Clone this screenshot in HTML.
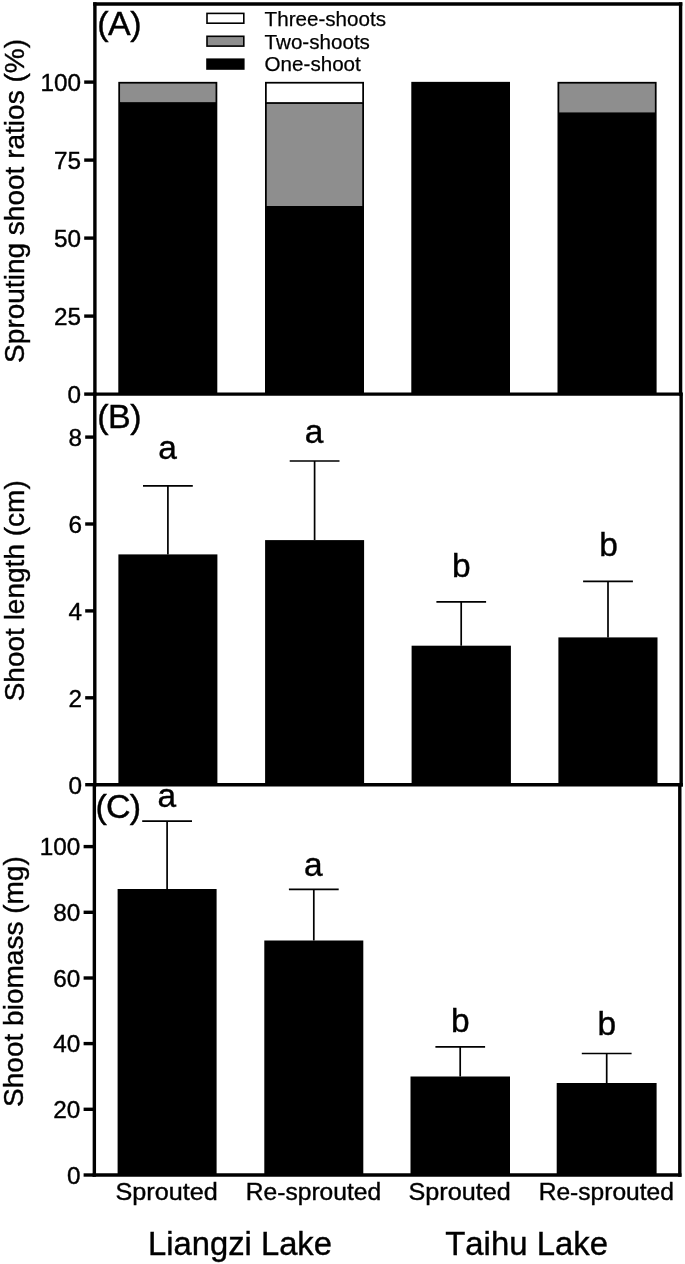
<!DOCTYPE html>
<html lang="en"><head><meta charset="utf-8"><title>Sprouting shoot ratios, shoot length and shoot biomass</title>
<style>
html,body{margin:0;padding:0;background:#fff;}
body{width:685px;height:1264px;overflow:hidden;}
svg{display:block;will-change:transform;}
text{font-family:"Liberation Sans", Arial, Helvetica, sans-serif;fill:#000;stroke:#000;stroke-width:0.4px;font-kerning:none;}
.tk{font-size:24.3px;text-anchor:end;}
.yl{font-size:28.03px;text-anchor:middle;}
.pl{font-size:34px;letter-spacing:-0.45px;}
.lt{font-size:33.5px;text-anchor:middle;}
.lg{font-size:20.6px;stroke-width:0.25px;font-kerning:normal;}
.xl{font-size:23.9px;text-anchor:middle;}
.gl{font-size:32.9px;text-anchor:middle;}
.ax{stroke:#000;stroke-width:3.4;fill:none;}
.eb{stroke:#000;stroke-width:1.7;fill:none;}
</style></head><body>
<svg width="685" height="1264" viewBox="0 0 685 1264">
<defs><filter id="soft" x="0" y="0" width="685" height="1264" filterUnits="userSpaceOnUse"><feGaussianBlur stdDeviation="0.4"/></filter></defs>
<rect width="685" height="1264" fill="#fff"/>
<g filter="url(#soft)">
<rect x="118.30" y="81.85" width="99.00" height="312.25" fill="#000"/>
<rect x="120.05" y="83.60" width="95.50" height="18.53" fill="#8e8e8e"/>
<rect x="265.00" y="81.85" width="99.00" height="312.25" fill="#000"/>
<rect x="266.75" y="103.88" width="95.50" height="102.15" fill="#8e8e8e"/>
<rect x="266.75" y="83.60" width="95.50" height="18.53" fill="#fff"/>
<rect x="411.30" y="81.85" width="98.70" height="312.25" fill="#000"/>
<rect x="557.50" y="81.85" width="99.10" height="312.25" fill="#000"/>
<rect x="559.25" y="83.60" width="95.60" height="28.83" fill="#8e8e8e"/>
<rect x="207" y="13.4" width="36.8" height="9.8" fill="#fff" stroke="#000" stroke-width="1.6"/>
<text class="lg" x="264.6" y="25.7">Three-shoots</text>
<rect x="207" y="36.3" width="36.8" height="9.8" fill="#8e8e8e" stroke="#000" stroke-width="1.6"/>
<text class="lg" x="264.6" y="48.5">Two-shoots</text>
<rect x="207" y="59.2" width="36.8" height="9.8" fill="#000" stroke="#000" stroke-width="1.6"/>
<text class="lg" x="264.6" y="71.3">One-shoot</text>
<rect x="118.4" y="554.4" width="99.0" height="230.3" fill="#000"/>
<path class="eb" d="M167.9 554.4V485.8M143.0 485.8H192.8"/>
<rect x="265.1" y="540.1" width="99.0" height="244.6" fill="#000"/>
<path class="eb" d="M314.6 540.1V461.0M289.7 461.0H339.5"/>
<rect x="411.6" y="645.7" width="99.3" height="139.0" fill="#000"/>
<path class="eb" d="M461.2 645.7V601.8M436.4 601.8H486.1"/>
<rect x="558.4" y="637.4" width="99.1" height="147.3" fill="#000"/>
<path class="eb" d="M608.0 637.4V581.4M583.1 581.4H632.9"/>
<rect x="117.6" y="889.0" width="99.0" height="286.0" fill="#000"/>
<path class="eb" d="M167.1 889.0V821.1M142.2 821.1H192.0"/>
<rect x="264.3" y="940.5" width="99.0" height="234.5" fill="#000"/>
<path class="eb" d="M313.8 940.5V889.3M288.9 889.3H338.7"/>
<rect x="410.5" y="1076.5" width="99.5" height="98.5" fill="#000"/>
<path class="eb" d="M460.2 1076.5V1046.9M435.4 1046.9H485.1"/>
<rect x="556.7" y="1083.0" width="99.9" height="92.0" fill="#000"/>
<path class="eb" d="M606.7 1083.0V1053.5M581.8 1053.5H631.6"/>
<path class="ax" d="M94.9 2.35V395.80M680.6 2.35V395.80"/>
<path class="ax" d="M93.20 394.1H682.30"/>
<path class="ax" d="M94.8 392.40V786.40M681.15 392.40V786.40"/>
<path class="ax" d="M93.10 784.7H682.85"/>
<path class="ax" d="M94.35 783.00V1176.70M679.8 783.00V1176.70"/>
<path class="ax" d="M92.65 1175.0H681.50"/>
<path class="ax" d="M93.20 4.05H682.30"/>
<path class="ax" d="M84.2 394.1H94.9"/>
<text class="tk" x="81.0" y="403.1">0</text>
<path class="ax" d="M84.2 316.1H94.9"/>
<text class="tk" x="81.0" y="325.1">25</text>
<path class="ax" d="M84.2 238.1H94.9"/>
<text class="tk" x="81.0" y="247.1">50</text>
<path class="ax" d="M84.2 160.1H94.9"/>
<text class="tk" x="81.0" y="169.1">75</text>
<path class="ax" d="M84.2 82.1H94.9"/>
<text class="tk" x="81.0" y="91.1">100</text>
<path class="ax" d="M85.2 784.7H94.8"/>
<text class="tk" x="81.9" y="793.8">0</text>
<path class="ax" d="M85.2 697.8H94.8"/>
<text class="tk" x="81.9" y="706.9">2</text>
<path class="ax" d="M85.2 610.9H94.8"/>
<text class="tk" x="81.9" y="620.0">4</text>
<path class="ax" d="M85.2 524.0H94.8"/>
<text class="tk" x="81.9" y="533.1">6</text>
<path class="ax" d="M85.2 437.1H94.8"/>
<text class="tk" x="81.9" y="446.2">8</text>
<path class="ax" d="M83.6 1175.0H94.35"/>
<text class="tk" x="80.4" y="1183.6">0</text>
<path class="ax" d="M83.6 1109.3H94.35"/>
<text class="tk" x="80.4" y="1117.9">20</text>
<path class="ax" d="M83.6 1043.6H94.35"/>
<text class="tk" x="80.4" y="1052.2">40</text>
<path class="ax" d="M83.6 978.0H94.35"/>
<text class="tk" x="80.4" y="986.6">60</text>
<path class="ax" d="M83.6 912.3H94.35"/>
<text class="tk" x="80.4" y="920.9">80</text>
<path class="ax" d="M83.6 846.6H94.35"/>
<text class="tk" x="80.4" y="855.2">100</text>
<text class="pl" x="97.2" y="35.4">(A)</text>
<text class="pl" x="97.2" y="428.3">(B)</text>
<text class="pl" style="letter-spacing:-0.8px" x="95.4" y="817.6">(C)</text>
<text class="lt" x="167.6" y="458.7">a</text>
<text class="lt" x="314.0" y="442.9">a</text>
<text class="lt" x="461.2" y="577">b</text>
<text class="lt" x="608.6" y="556">b</text>
<text class="lt" x="166.8" y="807">a</text>
<text class="lt" x="313.4" y="876">a</text>
<text class="lt" x="460.2" y="1032">b</text>
<text class="lt" x="606.7" y="1034.6">b</text>
<text class="yl" transform="translate(24.2 200.95) rotate(-90)">Sprouting shoot ratios (%)</text>
<text class="yl" transform="translate(24.2 590.8) rotate(-90)">Shoot length (cm)</text>
<text class="yl" transform="translate(23.0 981.55) rotate(-90)">Shoot biomass (mg)</text>
<text class="xl" transform="translate(166.65 1200.0) scale(1.055 1)">Sprouted</text>
<text class="xl" transform="translate(313.45 1200.0) scale(1.0285 1)">Re-sprouted</text>
<text class="xl" transform="translate(459.55 1200.0) scale(1.055 1)">Sprouted</text>
<text class="xl" transform="translate(606.30 1200.0) scale(1.0285 1)">Re-sprouted</text>
<text class="gl" style="font-size:32.75px" x="240.0" y="1255.2">Liangzi Lake</text>
<text class="gl" x="526.6" y="1255.2">Taihu Lake</text>
</g>
</svg>
</body></html>
